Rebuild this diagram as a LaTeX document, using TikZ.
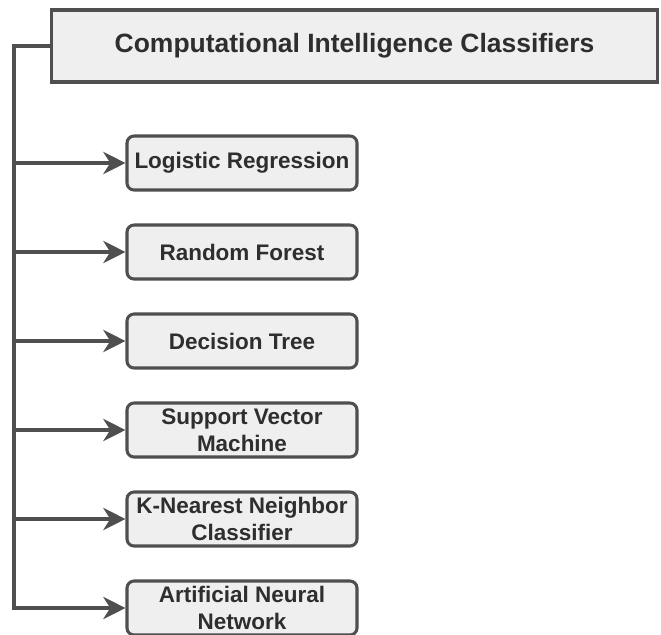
\documentclass[tikz,border=0pt]{standalone}
\usepackage{fontspec}
\setmainfont{Liberation Sans}
\usepackage{tikz}
\usetikzlibrary{arrows.meta,positioning,calc}
\usepackage{xcolor}

\definecolor{boxgray}{HTML}{EFEFEF}
\definecolor{linegray}{HTML}{4F4F4F}
\definecolor{textgray}{HTML}{2E2E2E}

\tikzset{
    classbox/.style={draw=linegray, line width=2.6pt, fill=boxgray, rounded corners=6pt,
        text=textgray, minimum width=6.9cm, minimum height=1.62cm, inner sep=1pt, align=center,
        font=\fontsize{19.2}{23}\selectfont\bfseries},
    branch/.style={draw=linegray, line width=2.6pt,
        -{Stealth[length=19pt, width=19pt, inset=6pt]}}
}

\begin{document}
\begin{tikzpicture}[x=0.03cm, y=-0.03cm]
            \useasboundingbox (0,0) rectangle (661,635);

            % Title box
            \node[draw=linegray, line width=2.6pt, fill=boxgray, text=textgray, minimum width=18.2cm, minimum height=2.16cm,
                font=\fontsize{22.6}{26}\selectfont\bfseries] (title) at (354.5,46) {Computational Intelligence Classifiers};

            % Classifier boxes
            \node[classbox] (lr) at (242,163) {Logistic Regression};
            \node[classbox] (rf) at (242,252) {Random Forest};
            \node[classbox] (dt) at (242,341) {Decision Tree};
            \node[classbox] (svm) at (242,430) {Support Vector\\Machine};
            \node[classbox] (knn) at (242,519) {K-Nearest Neighbor\\Classifier};
            \node[classbox] (ann) at (242,608) {Artificial Neural\\Network};

            % Trunk line on the left
            \coordinate (trunk) at (14,46);
            \draw[branch] (title.west) -- (trunk) |- (ann.west);

            % Branches to each classifier
            \draw[branch] (trunk |- lr.west) -- (lr.west);
            \draw[branch] (trunk |- rf.west) -- (rf.west);
            \draw[branch] (trunk |- dt.west) -- (dt.west);
            \draw[branch] (trunk |- svm.west) -- (svm.west);
            \draw[branch] (trunk |- knn.west) -- (knn.west);
        \end{tikzpicture}
\end{document}
